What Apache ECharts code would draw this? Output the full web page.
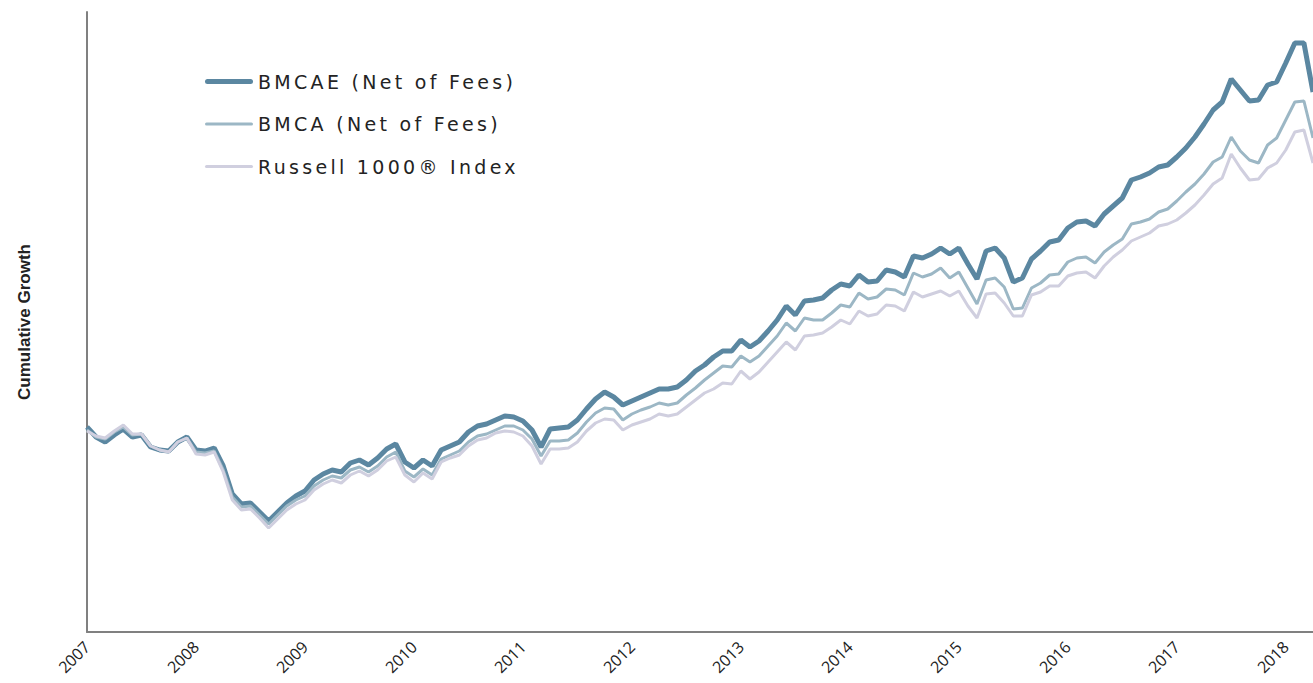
<!DOCTYPE html>
<html>
<head>
    <meta charset="utf-8">
    <title>Cumulative Growth</title>
    <script src="https://cdn.jsdelivr.net/npm/echarts@6.0.0/dist/echarts.min.js"></script>
    <style>
        html, body { margin: 0; padding: 0; background: #fff; }
        /* legend text in the original is widely tracked */
        #main text[fill="#232323"], #main text[style*="DejaVu"] { letter-spacing: 3.3px; }
    </style>
</head>
<body>
<div id="main" style="width: 1313px;height:683px;"></div>
<script type="text/javascript">

    // year labels on the x axis, one per January
    let years = ['2007', '2008', '2009', '2010', '2011', '2012', '2013', '2014', '2015', '2016', '2017', '2018'];

    // monthly cumulative growth, Jan 2007 .. Apr 2018 (arbitrary index units)
    let bmcae = [
        205, 195, 190, 197, 203, 195, 197, 185, 182, 181, 190, 195,
        182, 181, 184, 166, 138, 128, 129, 120, 111, 120, 129, 136,
        141, 152, 158, 162, 160, 169, 172, 167, 174, 183, 188, 170,
        164, 172, 166, 182, 186, 190, 200, 206, 208, 212, 216, 215,
        211, 202, 185, 203, 204, 205, 212, 223, 233, 240, 235, 227,
        231, 235, 239, 243, 243, 245, 252, 261, 267, 275, 281, 281,
        292, 285, 291, 301, 312, 326, 317, 331, 332, 334, 342, 348,
        346, 357, 350, 351, 362, 360, 355, 376, 374, 378, 384, 378,
        384, 368, 353, 381, 384, 374, 350, 354, 373, 381, 390, 392,
        404, 410, 411, 406, 418, 426, 434, 452, 455, 459, 465, 467,
        475, 484, 495, 508, 522, 530, 553, 542, 531, 532, 547, 550,
        569, 589, 589, 540
    ];
    let bmca = [
        202, 195, 193, 200, 205, 197, 198, 186, 182, 180, 190, 194,
        180, 179, 181, 162, 135, 125, 126, 117, 108, 117, 126, 132,
        136, 146, 152, 156, 154, 162, 165, 160, 166, 175, 180, 161,
        155, 163, 157, 173, 177, 181, 190, 196, 198, 202, 206, 206,
        202, 193, 176, 191, 191, 192, 199, 210, 219, 224, 223, 212,
        218, 222, 225, 229, 227, 229, 237, 244, 252, 259, 266, 265,
        276, 270, 276, 286, 296, 309, 301, 314, 312, 312, 319, 327,
        325, 339, 333, 335, 343, 342, 337, 359, 355, 358, 364, 354,
        360, 344, 328, 352, 354, 345, 323, 324, 344, 349, 357, 358,
        370, 374, 375, 369, 380, 387, 393, 408, 410, 413, 420, 423,
        431, 440, 448, 458, 470, 475, 495, 481, 472, 469, 487, 494,
        512, 530, 531, 494
    ];
    let russell = [
        201, 196, 194, 201, 207, 198, 198, 186, 182, 180, 190, 194,
        178, 177, 180, 160, 132, 122, 123, 114, 104, 113, 122, 128,
        132, 142, 148, 152, 149, 157, 161, 156, 162, 171, 175, 157,
        150, 159, 153, 170, 174, 177, 186, 192, 194, 199, 201, 200,
        196, 186, 168, 183, 183, 184, 190, 201, 209, 213, 212, 202,
        207, 210, 213, 218, 216, 218, 225, 232, 239, 243, 249, 248,
        261, 253, 260, 270, 280, 290, 282, 296, 297, 299, 305, 312,
        308, 321, 316, 318, 327, 326, 321, 340, 335, 338, 341, 336,
        341, 326, 314, 338, 339, 329, 316, 316, 337, 340, 346, 346,
        356, 359, 360, 354, 366, 375, 382, 391, 395, 399, 406, 408,
        412, 419, 427, 437, 448, 454, 478, 464, 452, 453, 464, 469,
        482, 500, 502, 469
    ];

    // monthly categories built from the year labels
    let months = [];
    for (let i = 0; i < bmcae.length; i++) {
        let y = years[Math.floor(i / 12)];
        months.push(y + '-' + String(i % 12 + 1).padStart(2, '0'));
    }

    // legend swatches: plain rounded strokes, thick for BMCAE
    let thickIcon = 'path://M2.5,0h43a2.5,2.5 0 0 1 0,5h-43a2.5,2.5 0 0 1 0,-5z';
    let thinIcon = 'path://M1.5,0h45a1.5,1.5 0 0 1 0,3h-45a1.5,1.5 0 0 1 0,-3z';

    let option = {
        animation: false,
        grid: {
            left: 87,
            right: 0,
            top: 12,
            bottom: 51,
            containLabel: false,
            outerBoundsMode: 'none'
        },
        legend: {
            orient: 'vertical',
            left: 205,
            top: 72,
            padding: 0,
            itemWidth: 48,
            itemHeight: 5,
            itemGap: 23.5,
            textStyle: {
                fontFamily: 'DejaVu Sans',
                fontSize: 19,
                color: '#232323'
            },
            data: [
                { name: 'BMCAE (Net of Fees)', icon: thickIcon },
                { name: 'BMCA (Net of Fees)', icon: thinIcon },
                { name: 'Russell 1000® Index', icon: thinIcon }
            ]
        },
        xAxis: {
            type: 'category',
            boundaryGap: false,
            data: months,
            axisTick: { show: false },
            axisLine: {
                lineStyle: { color: '#808080', width: 2 }
            },
            axisLabel: {
                rotate: 45,
                margin: 12,
                fontFamily: 'Open Sans',
                fontSize: 16,
                color: '#222',
                interval: function (index) { return index % 12 === 0; },
                formatter: function (v) { return v.slice(0, 4); }
            },
            splitLine: { show: false }
        },
        yAxis: {
            type: 'value',
            min: 0,
            max: 620,
            name: 'Cumulative Growth',
            nameLocation: 'middle',
            nameRotate: 90,
            nameGap: 54,
            nameTextStyle: {
                fontFamily: 'Liberation Sans',
                fontWeight: 'bold',
                fontSize: 17,
                color: '#222'
            },
            axisLine: {
                show: true,
                lineStyle: { color: '#808080', width: 2 }
            },
            axisTick: { show: false },
            axisLabel: { show: false },
            splitLine: { show: false }
        },
        series: [
            {
                name: 'BMCAE (Net of Fees)',
                type: 'line',
                symbol: 'none',
                data: bmcae,
                lineStyle: { color: '#5b87a1', width: 5 },
                itemStyle: { color: '#5b87a1' }
            },
            {
                name: 'BMCA (Net of Fees)',
                type: 'line',
                symbol: 'none',
                data: bmca,
                lineStyle: { color: '#9cb7c5', width: 3 },
                itemStyle: { color: '#9cb7c5' }
            },
            {
                name: 'Russell 1000® Index',
                type: 'line',
                symbol: 'none',
                data: russell,
                lineStyle: { color: '#d0cfdf', width: 3 },
                itemStyle: { color: '#d0cfdf' }
            }
        ]
    };

    let myChart = echarts.init(document.getElementById('main'), null, { renderer: 'svg' });
    myChart.setOption(option);
</script>
</body>
</html>
